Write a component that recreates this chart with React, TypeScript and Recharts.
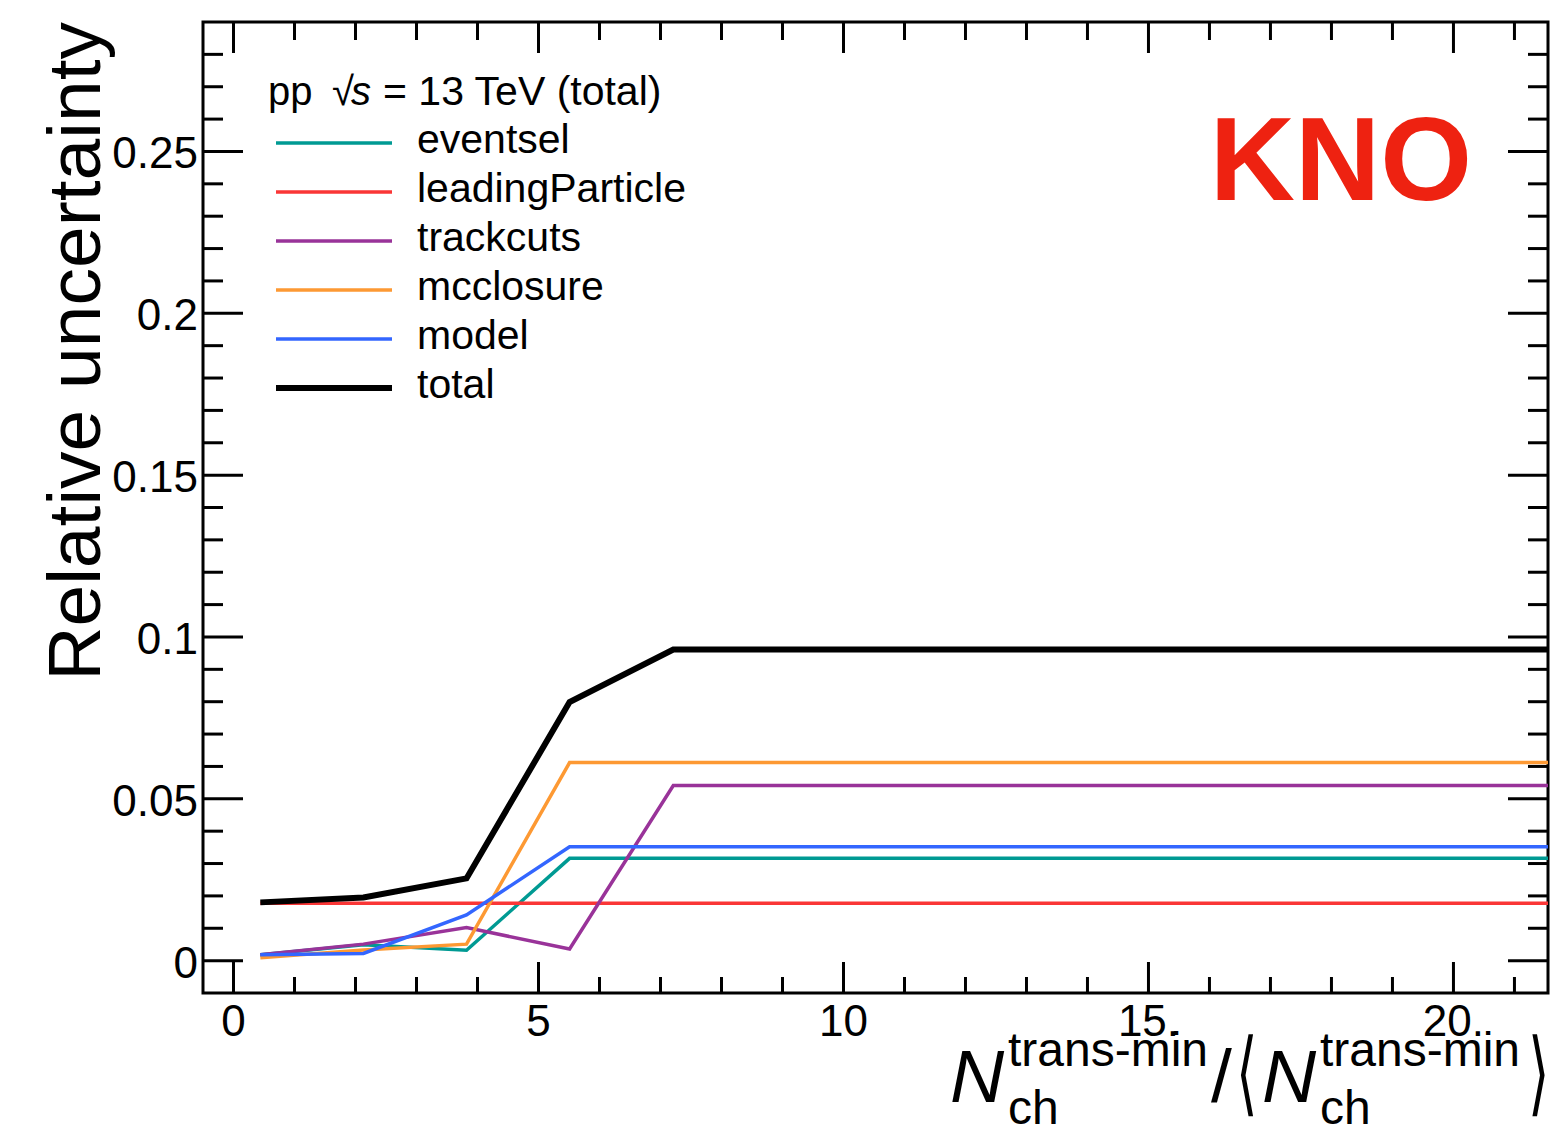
import React from 'react';
import { LineChart, Line, XAxis, YAxis, Legend, Customized, ReferenceArea } from 'recharts';

const FONT = '"Liberation Sans", Arial, Helvetica, sans-serif';

// Bin positions in N_ch / <N_ch> and the relative uncertainty of each source
const xCenters = [0.44, 2.13, 3.82, 5.51, 7.21, 21.55];
const eventsel = [0.0018, 0.0049, 0.0032, 0.0316, 0.0316, 0.0316];
const leadingParticle = [0.0177, 0.0177, 0.0177, 0.0177, 0.0177, 0.0177];
const trackcuts = [0.0018, 0.0051, 0.0102, 0.0036, 0.0541, 0.0541];
const mcclosure = [0.0009, 0.0033, 0.0051, 0.0612, 0.0612, 0.0612];
const model = [0.0018, 0.0022, 0.0141, 0.0352, 0.0352, 0.0352];
const total = [0.018, 0.0195, 0.0254, 0.0799, 0.0961, 0.0961];

const xTicks = [0, 1, 2, 3, 4, 5, 6, 7, 8, 9, 10, 11, 12, 13, 14, 15, 16, 17, 18, 19, 20, 21];
const xMajorTicks = [0, 5, 10, 15, 20];
const xLabels = ['0', '5', '10', '15.', '20.'];
const yTicks = Array.from({ length: 29 }, (_, i) => i / 100);
const yMajorTicks = [0, 0.05, 0.1, 0.15, 0.2, 0.25];
const yLabels = ['0', '0.05', '0.1', '0.15', '0.2', '0.25'];

const X_DOMAIN: [number, number] = [-0.5, 21.55];
const Y_DOMAIN: [number, number] = [-0.01, 0.29];

const series = [
  { key: 'eventsel', color: '#009A93', width: 3.5 },
  { key: 'leadingParticle', color: '#FA3636', width: 3.5 },
  { key: 'trackcuts', color: '#993399', width: 3.5 },
  { key: 'mcclosure', color: '#FD9933', width: 3.5 },
  { key: 'model', color: '#3366FF', width: 3.5 },
  { key: 'total', color: '#000000', width: 6 },
];

const data = xCenters.map((x, i) => ({
  x,
  eventsel: eventsel[i],
  leadingParticle: leadingParticle[i],
  trackcuts: trackcuts[i],
  mcclosure: mcclosure[i],
  model: model[i],
  total: total[i],
}));

const W = 1558;
const H = 1129;
// plot frame: x 203..1548, y 22..993 (each axis is 1px thick)
const MARGIN = { top: 22, right: 10, bottom: 135, left: 202 };
const FRAME = { left: 203, right: 1548, top: 22, bottom: 993 };

const majorXIndex = (v: number) => xMajorTicks.indexOf(v);
const majorYIndex = (v: number) => yMajorTicks.findIndex((m) => Math.abs(m - v) < 1e-9);

// Inward-pointing ticks on both opposite sides of the frame, ROOT style
function XTick(props: any) {
  const { x, payload } = props;
  const idx = majorXIndex(payload.value);
  const major = idx >= 0;
  const len = major ? 31 : 16;
  return (
    <g>
      <line x1={x} x2={x} y1={FRAME.bottom} y2={FRAME.bottom - len} stroke="#000" strokeWidth={3} />
      <line x1={x} x2={x} y1={FRAME.top} y2={FRAME.top + (major ? 31 : 18)} stroke="#000" strokeWidth={3} />
      {major ? (
        <text x={x} y={FRAME.bottom + 43} textAnchor="middle" fontSize={44} fontFamily={FONT} fill="#000">
          {xLabels[idx]}
        </text>
      ) : null}
    </g>
  );
}

function YTick(props: any) {
  const { y, payload } = props;
  const idx = majorYIndex(payload.value);
  const major = idx >= 0;
  const len = major ? 40 : 20;
  return (
    <g>
      <line x1={FRAME.left} x2={FRAME.left + len} y1={y} y2={y} stroke="#000" strokeWidth={3} />
      <line x1={FRAME.right} x2={FRAME.right - len} y1={y} y2={y} stroke="#000" strokeWidth={3} />
      {major ? (
        <text x={FRAME.left - 5} y={y + 17} textAnchor="end" fontSize={44} fontFamily={FONT} fill="#000">
          {yLabels[idx]}
        </text>
      ) : null}
    </g>
  );
}

function LegendBox(props: any) {
  const payload = ((props.payload || []) as any[])
    .slice()
    .sort(
      (a, b) =>
        series.findIndex((s) => s.key === a.dataKey) - series.findIndex((s) => s.key === b.dataKey),
    );
  return (
    <svg width={720} height={420} style={{ position: 'absolute', left: 0, top: 0, overflow: 'visible' }}>
      <text y={105} fontSize={40} fontFamily={FONT} fill="#000">
        <tspan x={268}>pp</tspan>
        <tspan x={332}>√</tspan>
        <tspan x={351} fontStyle="italic">s</tspan>
        <tspan x={383} fontSize={41}>= 13 TeV (total)</tspan>
      </text>
      {payload.map((p, i) => {
        const def = series.find((s) => s.key === p.dataKey) || series[i];
        const cy = 143 + i * 49;
        return (
          <g key={String(p.dataKey)}>
            <line x1={276} x2={392} y1={cy} y2={cy} stroke={p.color} strokeWidth={def.width} />
            <text x={417} y={cy + 10} fontSize={41} fontFamily={FONT} fill="#000">
              {p.value}
            </text>
          </g>
        );
      })}
    </svg>
  );
}

function Titles() {
  return (
    <g fontFamily={FONT} fill="#000">
      <text transform="rotate(-90)" x={-22} y={100} textAnchor="end" fontSize={75}>
        Relative uncertainty
      </text>
      <text x={950} y={1102} fontSize={75} fontStyle="italic">N</text>
      <text x={1008} y={1066} fontSize={48}>trans-min</text>
      <text x={1008} y={1124} fontSize={48}>ch</text>
      <text x={1211} y={1102} fontSize={75}>/</text>
      <text transform="translate(1236,1104) scale(0.6,1)" fontSize={92}>⟨</text>
      <text x={1262} y={1102} fontSize={75} fontStyle="italic">N</text>
      <text x={1320} y={1066} fontSize={48}>trans-min</text>
      <text x={1320} y={1124} fontSize={48}>ch</text>
      <text transform="translate(1528,1104) scale(0.6,1)" fontSize={92}>⟩</text>
      <text x={1472} y={200} textAnchor="end" fontSize={118} fontWeight="bold" fill="#EE2211">
        KNO
      </text>
    </g>
  );
}

export default function App() {
  return (
    <div style={{ position: 'absolute', left: 0, top: 0, width: W, height: H, background: '#fff' }}>
      <LineChart width={W} height={H} data={data} margin={MARGIN}>
        <XAxis
          xAxisId="b"
          dataKey="x"
          type="number"
          domain={X_DOMAIN}
          allowDataOverflow
          ticks={xTicks}
          interval={0}
          height={1}
          tickSize={0}
          tickMargin={0}
          tickLine={false}
          axisLine={false}
          tick={(p: any) => <XTick {...p} />}
        />
        <YAxis
          yAxisId="l"
          type="number"
          domain={Y_DOMAIN}
          allowDataOverflow
          ticks={yTicks}
          interval={0}
          width={1}
          tickSize={0}
          tickMargin={0}
          tickLine={false}
          axisLine={false}
          tick={(p: any) => <YTick {...p} />}
        />
        {series.map((s) => (
          <Line
            key={s.key}
            xAxisId="b"
            yAxisId="l"
            dataKey={s.key}
            name={s.key}
            type="linear"
            stroke={s.color}
            strokeWidth={s.width}
            dot={false}
            activeDot={false}
            isAnimationActive={false}
          />
        ))}
        <ReferenceArea
          xAxisId="b"
          yAxisId="l"
          x1={X_DOMAIN[0]}
          x2={X_DOMAIN[1]}
          y1={Y_DOMAIN[0]}
          y2={Y_DOMAIN[1]}
          fill="none"
          stroke="#000"
          strokeWidth={3}
          ifOverflow="visible"
        />
        <Legend
          layout="horizontal"
          verticalAlign="middle"
          align="center"
          wrapperStyle={{ left: 0, top: 0, width: 720, height: 420 }}
          content={(p: any) => <LegendBox {...p} />}
        />
        <Customized component={<Titles />} />
      </LineChart>
    </div>
  );
}
